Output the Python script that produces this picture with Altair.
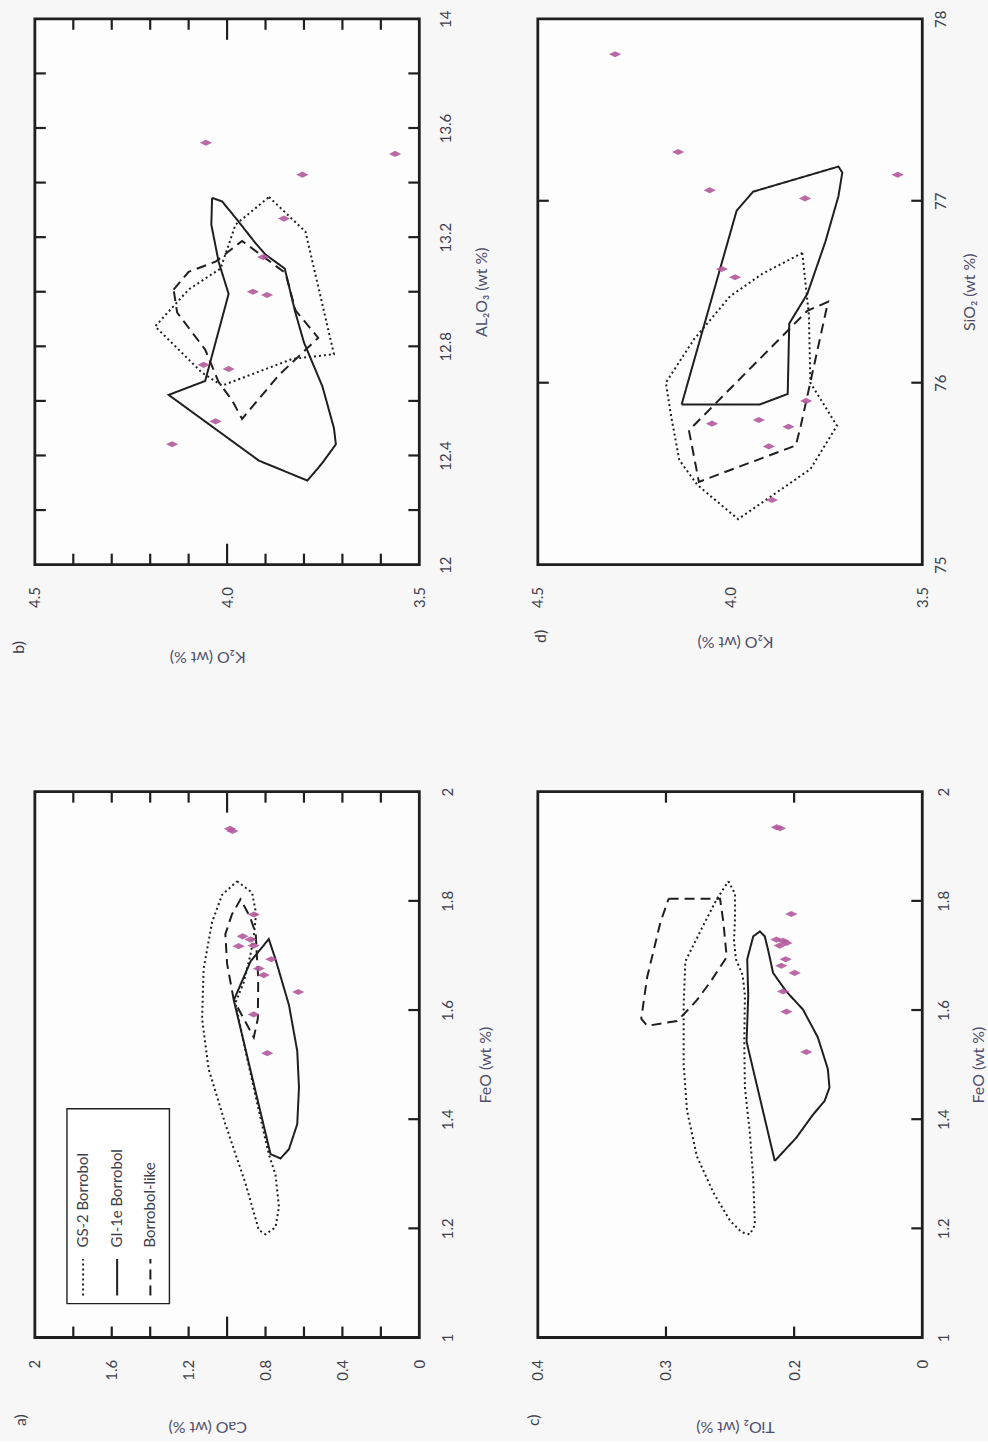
import altair as alt
import pandas as pd

# ---------------------------------------------------------------- data
SERIES = ["GS-2 Borrobol", "GI-1e Borrobol", "Borrobol-like"]

# a) CaO vs FeO
a_gs2_cao = [0.948, 0.870, 0.849, 0.861, 0.878, 0.913, 0.957, 0.904, 0.835, 0.783, 0.748,
             0.730, 0.748, 0.800, 0.835, 0.904, 1.009, 1.096, 1.130, 1.122, 1.078, 1.026]
a_gs2_feo = [1.836, 1.815, 1.777, 1.735, 1.702, 1.651, 1.613, 1.525, 1.416, 1.336, 1.298,
             1.239, 1.202, 1.189, 1.197, 1.282, 1.391, 1.492, 1.584, 1.676, 1.761, 1.811]
a_gi1e_cao = [0.965, 0.878, 0.783, 0.748, 0.678, 0.635, 0.626, 0.635, 0.678, 0.722, 0.774]
a_gi1e_feo = [1.618, 1.689, 1.730, 1.693, 1.609, 1.525, 1.458, 1.391, 1.345, 1.328, 1.336]
a_like_cao = [0.965, 1.000, 1.009, 0.975, 0.930, 0.880, 0.851, 0.845, 0.838, 0.840, 0.861]
a_like_feo = [1.618, 1.685, 1.739, 1.775, 1.803, 1.770, 1.740, 1.700, 1.660, 1.584, 1.550]
a_pts_cao = [0.985, 0.972, 0.861, 0.919, 0.878, 0.862, 0.940, 0.770, 0.835, 0.809, 0.630, 0.861, 0.791]
a_pts_feo = [1.932, 1.928, 1.775, 1.735, 1.729, 1.718, 1.717, 1.693, 1.676, 1.664, 1.633, 1.592, 1.521]

# b) K2O vs Al2O3
b_gs2_k2o = [3.891, 3.796, 3.722, 3.830, 4.013, 4.065, 4.187, 4.100, 4.017, 3.978]
b_gs2_al = [13.347, 13.220, 12.771, 12.754, 12.656, 12.703, 12.873, 13.008, 13.085, 13.246]
b_gi1e_k2o = [4.039, 4.013, 3.978, 3.926, 3.900, 3.850, 3.823, 3.800, 3.752, 3.722, 3.717,
              3.752, 3.791, 3.917, 4.152, 4.057, 3.996, 4.022, 4.041]
b_gi1e_al = [13.344, 13.331, 13.271, 13.178, 13.136, 13.085, 12.927, 12.814, 12.653, 12.500,
             12.441, 12.373, 12.308, 12.381, 12.622, 12.673, 12.992, 13.110, 13.246]
b_like_k2o = [4.139, 4.100, 4.030, 3.961, 3.904, 3.848, 3.822, 3.763, 3.865, 3.961, 3.987,
              4.022, 4.057, 4.130]
b_like_al = [13.008, 13.073, 13.110, 13.186, 13.127, 13.068, 12.932, 12.831, 12.695, 12.534,
             12.602, 12.669, 12.788, 12.924]
b_pts_k2o = [4.055, 3.563, 3.804, 3.852, 3.906, 3.933, 3.896, 4.061, 3.996, 4.030, 4.143]
b_pts_al = [13.546, 13.505, 13.429, 13.268, 13.127, 13.000, 12.988, 12.732, 12.717, 12.525, 12.441]

# c) TiO2 vs FeO
c_gs2_ti = [0.2513, 0.2461, 0.2461, 0.2469, 0.2454, 0.2402, 0.2384, 0.2389, 0.2384, 0.2345,
            0.2319, 0.2306, 0.2345, 0.2410, 0.2500, 0.2629, 0.2759, 0.2836, 0.2862, 0.2862,
            0.2849, 0.2707, 0.2604]
c_gs2_feo = [1.836, 1.813, 1.769, 1.727, 1.693, 1.664, 1.626, 1.542, 1.458, 1.374, 1.290,
             1.206, 1.189, 1.193, 1.214, 1.265, 1.332, 1.416, 1.500, 1.609, 1.689, 1.756, 1.803]
c_gi1e_ti = [0.2151, 0.2371, 0.2358, 0.2366, 0.2319, 0.2267, 0.2229, 0.2203, 0.2164, 0.2061,
             0.1931, 0.1815, 0.1737, 0.1724, 0.1763, 0.1854, 0.1983]
c_gi1e_feo = [1.3235, 1.542, 1.626, 1.693, 1.735, 1.744, 1.735, 1.710, 1.668, 1.634, 1.601,
              1.550, 1.492, 1.458, 1.433, 1.408, 1.366]
c_like_ti = [0.2979, 0.2578, 0.2552, 0.2526, 0.2655, 0.2759, 0.2862, 0.2914, 0.3147, 0.3193,
             0.3147, 0.3043]
c_like_feo = [1.804, 1.804, 1.761, 1.697, 1.651, 1.618, 1.592, 1.580, 1.571, 1.584, 1.660, 1.761]
c_pts_ti = [0.2135, 0.2110, 0.2022, 0.2138, 0.2086, 0.2112, 0.2060, 0.2066, 0.2100, 0.1996,
            0.2086, 0.2060, 0.1905]
c_pts_feo = [1.935, 1.933, 1.776, 1.729, 1.727, 1.718, 1.723, 1.693, 1.681, 1.668, 1.634,
             1.597, 1.523]

# d) K2O vs SiO2
d_gs2_k2o = [3.812, 3.795, 3.791, 3.722, 3.791, 3.979, 4.085, 4.132, 4.154, 4.167, 4.094,
             4.000, 3.915]
d_gs2_si = [76.713, 76.375, 76.000, 75.763, 75.525, 75.250, 75.438, 75.575, 75.825, 76.000,
            76.238, 76.475, 76.600]
d_gi1e_k2o = [4.126, 3.983, 3.940, 3.718, 3.708, 3.718, 3.752, 3.799, 3.846, 3.850, 3.923]
d_gi1e_si = [75.880, 76.945, 77.050, 77.188, 77.155, 77.025, 76.775, 76.488, 76.325, 75.938,
             75.880]
d_like_k2o = [4.107, 4.081, 3.829, 3.816, 3.745, 3.799]
d_like_si = [75.738, 75.455, 75.655, 75.763, 76.445, 76.395]
d_pts_k2o = [4.299, 4.135, 3.564, 4.053, 3.805, 4.021, 3.987, 3.802, 4.047, 3.925, 3.848,
             3.899, 3.891]
d_pts_si = [77.805, 77.268, 77.143, 77.058, 77.013, 76.625, 76.580, 75.900, 75.775, 75.795,
            75.758, 75.650, 75.355]

# axis tick values
a_x_labels = [2.0, 1.6, 1.2, 0.8, 0.4, 0.0]
a_x_minor = [0.2, 0.4, 0.6, 0.8, 1.2, 1.4, 1.6, 1.8]
a_x_major = [1.0]
feo_labels = [1.0, 1.2, 1.4, 1.6, 1.8, 2.0]
feo_minor = [1.2, 1.4, 1.6, 1.8]
k2o_labels = [4.5, 4.0, 3.5]
b_x_minor = [3.6, 3.7, 3.8, 3.9, 4.1, 4.2, 4.3, 4.4]
b_x_major = [4.0]
al_labels = [12.0, 12.4, 12.8, 13.2, 13.6, 14.0]
al_minor = [12.2, 12.4, 12.6, 12.8, 13.0, 13.2, 13.4, 13.6, 13.8]
ti_labels = [0.4, 0.3, 0.2, 0.1]
ti_minor = [0.2, 0.3]
si_labels = [75.0, 76.0, 77.0, 78.0]
si_minor = [76.0, 77.0]

# legend placement inside panel a (CaO / FeO units)
leg_box = {"x0": 1.833, "x1": 1.300, "y0": 1.062, "y1": 1.419}
leg_cao = [1.749, 1.572, 1.399]
leg_line_feo = (1.077, 1.144)
leg_text_feo = 1.165

# ---------------------------------------------------------------- styling
W, H = 386, 548
INK = "#1f1f1f"
PINK = "#b4599c"
LABEL_C = "#3f3f4c"
TITLE_C = "#4f4f6c"
FONT = "Lato"
FS = 15
DIAMOND = "M-1,0L0,-0.5L1,0L0,0.5Z"
TICK = 11
LONG_TICK = 21

dash_scale = alt.Scale(domain=SERIES, range=[[2, 3], [1, 0], [10, 6]])


def poly_df(groups):
    rows = []
    for name, xs, ys in groups:
        pts = list(zip(xs, ys))
        pts.append(pts[0])
        for i, (x, y) in enumerate(pts):
            rows.append({"series": name, "x": x, "y": y, "i": i})
    return pd.DataFrame(rows)


def x_axis(values, title, title_dx, title_pad, fmt="~g", expr=None):
    kw = dict(values=values, title=title, format=fmt, labelAngle=270, labelAlign="right",
              labelBaseline="middle", labelPadding=22, ticks=False, tickSize=0,
              domain=False, grid=False, labelFlush=False, labelOverlap=False,
              titleAngle=180, titleBaseline="bottom", titleAlign="center",
              titlePadding=title_pad, titleX=W / 2 + title_dx)
    if expr:
        kw["labelExpr"] = expr
    return alt.Axis(**kw)


def y_axis(values, title, label_pad, title_pad):
    return alt.Axis(orient="right", values=values, title=title, format="~g",
                    labelAngle=270, labelAlign="center", labelBaseline="top",
                    labelPadding=label_pad, ticks=False, tickSize=0, domain=False,
                    grid=False, labelFlush=False, labelOverlap=False, titleAngle=270,
                    titleBaseline="top", titleAlign="center", titlePadding=title_pad)


def panel(xdom, ydom, xax, yax, polys, px, py, side_ticks, left_mirror,
          edge_minor, edge_major, tag, tag_xy, legend=False):
    xs = alt.Scale(domain=xdom, reverse=True, nice=False, zero=False)
    ys = alt.Scale(domain=ydom, nice=False, zero=False)

    def X(f):
        return alt.X(f, type="quantitative", scale=xs, axis=xax)

    def Y(f):
        return alt.Y(f, type="quantitative", scale=ys, axis=yax)

    layers = []
    layers.append(
        alt.Chart(poly_df(polys)).mark_line(color=INK, strokeWidth=2).encode(
            x=X("x"), y=Y("y"), order="i:Q",
            strokeDash=alt.StrokeDash("series:N", scale=dash_scale, legend=None))
    )
    layers.append(
        alt.Chart(pd.DataFrame({"x": px, "y": py})).mark_point(
            shape=DIAMOND, size=150, filled=True, color=PINK, opacity=0.9,
            strokeWidth=0).encode(x=X("x"), y=Y("y"))
    )
    side = pd.DataFrame({"v": side_ticks})
    layers.append(alt.Chart(side).mark_rule(color=INK, strokeWidth=2.2).encode(
        y=Y("v"), x=alt.value(W - TICK), x2=alt.value(W)))
    if left_mirror:
        layers.append(alt.Chart(side).mark_rule(color=INK, strokeWidth=2.2).encode(
            y=Y("v"), x=alt.value(0), x2=alt.value(TICK)))
    for vals, ln in ((edge_minor, TICK), (edge_major, LONG_TICK)):
        if not vals:
            continue
        e = pd.DataFrame({"v": vals})
        layers.append(alt.Chart(e).mark_rule(color=INK, strokeWidth=2.2).encode(
            x=X("v"), y=alt.value(0), y2=alt.value(ln)))
        layers.append(alt.Chart(e).mark_rule(color=INK, strokeWidth=2.2).encode(
            x=X("v"), y=alt.value(H - ln), y2=alt.value(H)))
    layers.append(
        alt.Chart(pd.DataFrame({"t": [tag]})).mark_text(
            angle=270, font=FONT, fontSize=16, color=LABEL_C, align="center",
            baseline="middle").encode(text="t:N", x=alt.value(tag_xy[0]),
                                      y=alt.value(tag_xy[1]))
    )
    if legend:
        layers.append(
            alt.Chart(pd.DataFrame([leg_box])).mark_rect(
                fill="white", stroke=INK, strokeWidth=1.4).encode(
                x=X("x0"), x2="x1", y=Y("y0"), y2="y1")
        )
        ldf = pd.DataFrame({"series": SERIES, "x": leg_cao,
                            "y0": [leg_line_feo[0]] * 3, "y1": [leg_line_feo[1]] * 3,
                            "yt": [leg_text_feo] * 3})
        layers.append(
            alt.Chart(ldf).mark_rule(color=INK, strokeWidth=2).encode(
                x=X("x"), y=Y("y0"), y2="y1",
                strokeDash=alt.StrokeDash("series:N", scale=dash_scale, legend=None))
        )
        layers.append(
            alt.Chart(ldf).mark_text(angle=270, align="left", baseline="middle",
                                     font=FONT, fontSize=15, color=LABEL_C).encode(
                x=X("x"), y=Y("yt"), text="series:N")
        )
    return alt.layer(*layers).properties(width=W, height=H)


b = panel(
    [3.5, 4.5], [12, 14],
    x_axis(k2o_labels, "K₂O (wt %)", -20, 41, fmt=".1f"),
    y_axis(al_labels, "AL₂O₃ (wt %)", 19, 20),
    [(SERIES[0], b_gs2_k2o, b_gs2_al), (SERIES[1], b_gi1e_k2o, b_gi1e_al),
     (SERIES[2], b_like_k2o, b_like_al)],
    b_pts_k2o, b_pts_al, al_minor, True, b_x_minor, b_x_major, "b)", (-16, H + 83))

d = panel(
    [3.5, 4.5], [75, 78],
    x_axis(k2o_labels, "K₂O (wt %)", 5, 26, fmt=".1f"),
    y_axis(si_labels, "SiO₂ (wt %)", 11, 13),
    [(SERIES[0], d_gs2_k2o, d_gs2_si), (SERIES[1], d_gi1e_k2o, d_gi1e_si),
     (SERIES[2], d_like_k2o, d_like_si)],
    d_pts_k2o, d_pts_si, si_minor, True, [], [], "d)", (3, H + 72))

a = panel(
    [0, 2], [1, 2],
    x_axis(a_x_labels, "CaO (wt %)", -20, 38),
    y_axis(feo_labels, "FeO (wt %)", 21, 22),
    [(SERIES[0], a_gs2_cao, a_gs2_feo), (SERIES[1], a_gi1e_cao, a_gi1e_feo),
     (SERIES[2], a_like_cao, a_like_feo)],
    a_pts_cao, a_pts_feo, feo_minor, False, a_x_minor, a_x_major, "a)", (-14, H + 83),
    legend=True)

c = panel(
    [0.1, 0.4], [1, 2],
    x_axis(ti_labels, "TiO₂ (wt %)", 5, 38,
           expr="datum.value < 0.15 ? '0' : format(datum.value, '.1f')"),
    y_axis(feo_labels, "FeO (wt %)", 14, 19),
    [(SERIES[0], c_gs2_ti, c_gs2_feo), (SERIES[1], c_gi1e_ti, c_gi1e_feo),
     (SERIES[2], c_like_ti, c_like_feo)],
    c_pts_ti, c_pts_feo, feo_minor, False, ti_minor, [], "c)", (-4, H + 83))

chart = (
    alt.concat(b, d, a, c, columns=2, spacing={"row": 228, "column": 119}, bounds="flush")
    .properties(padding={"left": 9, "top": 5, "right": 0, "bottom": 2},
                background="#f7f7f7")
    .configure_view(stroke=INK, strokeWidth=2.8, fill="#fdfdfd")
    .configure_axis(labelFont=FONT, labelFontSize=FS, labelColor=LABEL_C,
                    titleFont=FONT, titleFontSize=16, titleFontWeight="normal",
                    titleColor=TITLE_C)
)

chart.save("out.html", embed_options={"renderer": "svg", "actions": False})
